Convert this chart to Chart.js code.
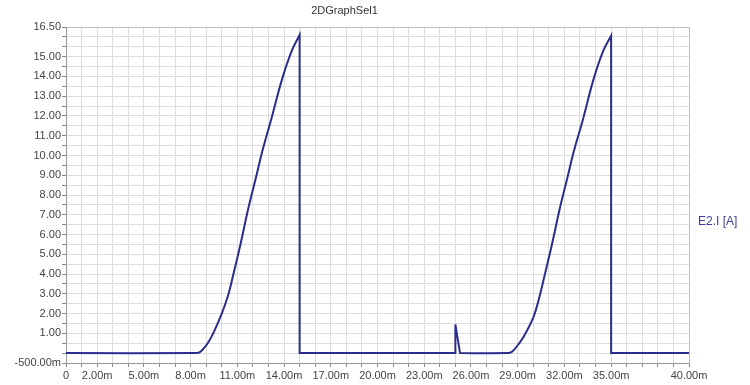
<!DOCTYPE html>
<html>
<head>
<meta charset="utf-8">
<title>2DGraphSel1</title>
<script src="https://cdn.jsdelivr.net/npm/chart.js@4.4.0/dist/chart.umd.min.js"></script>
<style>
  html, body { margin: 0; padding: 0; background: #fff; }
</style>
</head>
<body>
<canvas id="graph" width="750" height="385"></canvas>
<script>
// 时间 (ms) 与电流 E2.I (A)，拐角处重复取点，避免曲线平滑时越界
const timeMs = [
  0, 8.4, 8.6, 8.8, 9.1, 9.45, 10.0, 10.4, 10.75, 11.2, 11.7, 12.2, 12.6, 13.2, 13.85, 14.5, 15.0, 15.0,
  15.0, 15.0, 25.0, 25.0, 25.0, 25.0, 25.3, 25.3,
  28.4, 28.6, 28.8, 29.1, 29.4, 30.0, 30.35, 30.75, 31.2, 31.7, 32.2, 32.6, 33.2, 33.85, 34.5, 35.0, 35.0,
  35.0, 35.0, 40.0
];
const currentA = [
  0, 0, 0.05, 0.2, 0.5, 1.0, 2.0, 2.9, 4.0, 5.5, 7.3, 8.9, 10.2, 11.9, 13.8, 15.3, 16.1, 16.1,
  0, 0, 0, 0, 1.45, 1.45, 0, 0,
  0, 0.05, 0.2, 0.5, 0.85, 1.8, 2.7, 4.0, 5.5, 7.3, 8.9, 10.2, 11.85, 13.8, 15.3, 16.06, 16.06,
  0, 0, 0
];

const xLabelTicks = [0, 2, 5, 8, 11, 14, 17, 20, 23, 26, 29, 32, 35, 40];
const yLabelTicks = [-0.5, 1, 2, 3, 4, 5, 6, 7, 8, 9, 10, 11, 12, 13, 14, 15, 16.5];
const seriesName = 'E2.I [A]';
const graphTitle = '2DGraphSel1';

const FONT = '"Liberation Sans", Arial, sans-serif';

// 右侧曲线名称
const sideLabel = {
  id: 'sideLabel',
  afterDraw(chart) {
    const { ctx, chartArea } = chart;
    ctx.save();
    ctx.font = '12px ' + FONT;
    ctx.fillStyle = '#3d3d9e';
    ctx.textBaseline = 'middle';
    ctx.fillText(seriesName, chartArea.right + 9, chartArea.top + (chartArea.bottom - chartArea.top) * 0.58);
    ctx.restore();
  }
};

function fmtMilli(v) {
  if (v === 0) return '0';
  if (Math.abs(v) < 1) return (v * 1000).toFixed(2) + 'm';
  return v.toFixed(2);
}

const points = timeMs.map((t, i) => ({ x: t, y: currentA[i] }));

new Chart(document.getElementById('graph').getContext('2d'), {
  type: 'line',
  data: {
    datasets: [{
      label: seriesName,
      data: points,
      borderColor: '#2c2c8c',
      borderWidth: 2,
      pointRadius: 0,
      tension: 0.35,
      fill: false
    }]
  },
  options: {
    responsive: false,
    devicePixelRatio: 1,
    animation: false,
    layout: { padding: { left: 0, right: 61, top: 0, bottom: 0 } },
    plugins: {
      legend: { display: false },
      tooltip: { enabled: false },
      title: {
        display: true,
        text: graphTitle,
        color: '#333',
        font: { family: FONT, size: 11, weight: 'normal' },
        padding: { top: 4, bottom: 9.8 }
      }
    },
    scales: {
      x: {
        type: 'linear',
        min: 0,
        max: 40,
        afterBuildTicks(scale) {
          const t = [];
          for (let v = 0; v <= 40; v++) t.push({ value: v });
          scale.ticks = t;
        },
        afterFit(scale) { scale.height = 22; },
        ticks: {
          autoSkip: false,
          maxRotation: 0,
          padding: 2,
          color: '#444',
          font: { family: FONT, size: 11 },
          callback: v => xLabelTicks.includes(v) ? (v === 0 ? '0' : v.toFixed(2) + 'm') : ''
        },
        grid: {
          color: c => (c.tick && c.tick.value === 40) ? '#bdbdbd' : '#dcdcdc',
          tickColor: '#888',
          tickLength: 4
        },
        border: { color: '#9a9a9a' }
      },
      y: {
        min: -0.5,
        max: 16.5,
        afterBuildTicks(scale) {
          const t = [];
          for (let v = -0.5; v <= 16.5; v += 0.5) t.push({ value: v });
          scale.ticks = t;
        },
        afterFit(scale) { scale.width = 66; },
        ticks: {
          autoSkip: false,
          padding: 1,
          color: '#444',
          font: { family: FONT, size: 11 },
          callback: v => yLabelTicks.includes(v) ? fmtMilli(v) : ''
        },
        grid: {
          color: c => (c.tick && c.tick.value === 16.5) ? '#bdbdbd' : '#dcdcdc',
          tickColor: '#888',
          tickLength: 4
        },
        border: { color: '#9a9a9a' }
      }
    }
  },
  plugins: [sideLabel]
});
</script>
</body>
</html>
